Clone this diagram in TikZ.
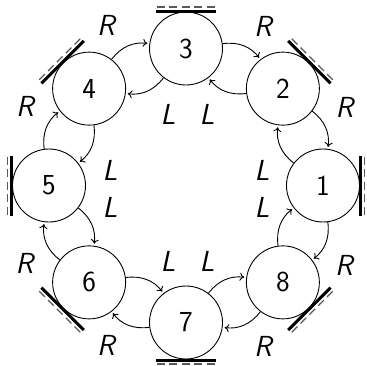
\documentclass[tikz,border=0pt]{standalone}
\usetikzlibrary{arrows.meta}
\begin{document}
\begin{tikzpicture}[x=1pt,y=1pt,
  robot/.style={circle, draw, line width=0.9pt, minimum size=73pt, inner sep=0pt,
    font=\sffamily\fontsize{29}{34}\selectfont},
  move/.style={-{To[length=4.5pt,width=8pt]}, line width=0.9pt, shorten >=2pt, bend left=30},
  lab/.style={font=\sffamily\itshape\fontsize{29}{34}\selectfont, inner sep=0pt},
  wallline/.style={line width=3pt},
  wallshade/.style={line width=1.3pt, black!65, dash pattern=on 8pt off 4.5pt},
]
\useasboundingbox (-186,-179.5) rectangle (181,185.5);

% robots on the ring, each with its wall on the outside
\foreach \i [evaluate=\i as \ang using (\i-1)*45] in {1,...,8} {
  \node[robot] (n\i) at (\ang:137) {\i};
  \begin{scope}[rotate=\ang]
    \draw[wallline] (174.5,-30) -- (174.5,30);
    \draw[wallshade] (178.5,-29) -- (178.5,29);
  \end{scope}
}

% moves between neighbours: R outside (clockwise), L inside (counter-clockwise)
\foreach \i [evaluate=\i as \j using {int(mod(\i,8)+1)}] in {1,...,8} {
  \draw[move] (n\j) to (n\i);
  \draw[move] (n\i) to (n\j);
}

% labels
\node[lab] (r43) at (-80,160) {R};
\node[lab] (r32) at (77,159) {R};
\node[lab] (r21) at (158.5,78) {R};
\node[lab] (r18) at (158,-80) {R};
\node[lab] (r87) at (77,-161) {R};
\node[lab] (r76) at (-80,-160) {R};
\node[lab] (r65) at (-161.5,-78) {R};
\node[lab] (r54) at (-161,79) {R};

\node[lab] (l34) at (-18,71) {L};
\node[lab] (l23) at (21,71) {L};
\node[lab] (l12) at (76,15) {L};
\node[lab] (l81) at (76,-22) {L};
\node[lab] (l45) at (-76,15) {L};
\node[lab] (l56) at (-76,-22) {L};
\node[lab] (l67) at (-18,-76) {L};
\node[lab] (l78) at (21,-76) {L};
\end{tikzpicture}
\end{document}
